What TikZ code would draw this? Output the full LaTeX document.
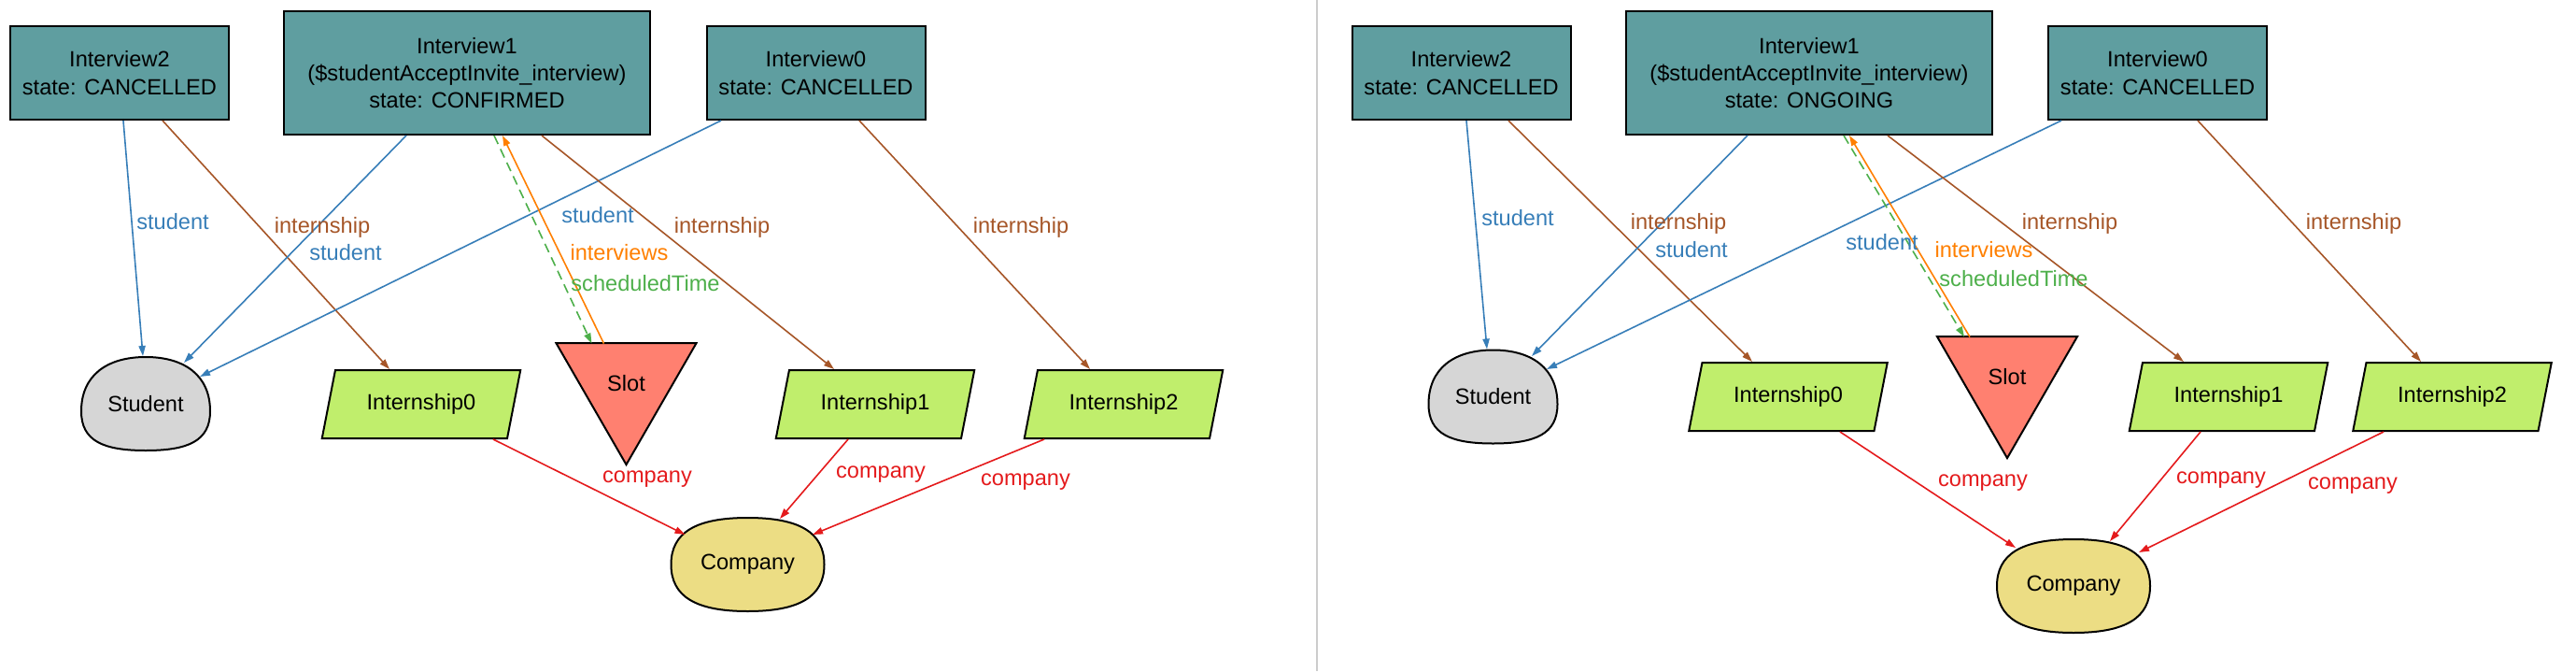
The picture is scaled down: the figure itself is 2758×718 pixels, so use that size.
\documentclass[tikz,border=0pt]{standalone}
\usepackage{fontspec}
\setmainfont{Liberation Sans}
\usepackage{tikz}
\usetikzlibrary{arrows.meta,calc,shapes.geometric}
\definecolor{ivfill}{HTML}{5F9EA0}
\definecolor{stufill}{HTML}{D6D6D6}
\definecolor{intfill}{HTML}{C0EE6C}
\definecolor{slotfill}{HTML}{FF8070}
\definecolor{compfill}{HTML}{ECDD84}
\definecolor{cblue}{HTML}{377EB8}
\definecolor{cbrown}{HTML}{A65628}
\definecolor{corange}{HTML}{FF7F00}
\definecolor{cgreen}{HTML}{4DAF4A}
\definecolor{cred}{HTML}{E41A1C}
\tikzstyle{iv}=[rectangle,draw,line width=1pt,fill=ivfill,align=center,minimum width=117pt,minimum height=50pt,inner sep=0pt]
\tikzstyle{ivbig}=[iv,minimum width=196pt,minimum height=66pt]
\tikzstyle{intern}=[trapezium,trapezium left angle=67.7,trapezium right angle=112.3,trapezium stretches,draw,line width=1pt,fill=intfill,minimum width=106.5pt,minimum height=36.5pt,inner sep=0pt]
\tikzstyle{slot}=[regular polygon,regular polygon sides=3,shape border rotate=180,draw,line width=1pt,fill=slotfill,minimum size=86.6pt,inner sep=0pt]
\tikzstyle{blob}=[draw,line width=1pt]
\tikzstyle{lbl}=[inner sep=0pt]
\tikzstyle{arr}=[-{Triangle[length=5.5pt,width=3.6pt]},line width=0.8pt]
\tikzstyle{tostu}=[arr,cblue]
\tikzstyle{toint}=[arr,cbrown]
\tikzstyle{toslot}=[arr,cgreen,dash pattern=on 5pt off 3pt]
\tikzstyle{toiv}=[arr,corange]
\tikzstyle{tocomp}=[arr,cred]
% egg of the Student node, oval of the Company node
\newcommand{\stuegg}[2]{\draw[blob,fill=stufill,shift={(#1,#2)}] (0,50) .. controls (45,50) and (69,40) .. (69,8) .. controls (69,-30) and (42,-50) .. (0,-50) .. controls (-42,-50) and (-69,-30) .. (-69,8) .. controls (-69,40) and (-45,50) .. cycle;}
\newcommand{\compoval}[2]{\draw[blob,fill=compfill,shift={(#1,#2)}] (82,0) .. controls (82,-34) and (56,-50) .. (0,-50) .. controls (-56,-50) and (-82,-34) .. (-82,0) .. controls (-82,34) and (-56,50) .. (0,50) .. controls (56,50) and (82,34) .. cycle;}

\begin{document}
\begin{tikzpicture}[x=0.5pt,y=-0.5pt,font=\fontsize{11.8}{14.6}\selectfont]
    \useasboundingbox (0,0) rectangle (2758,718);
    \coordinate (sept) at (1410,0);
    \coordinate (sepb) at (1410,718);
    \draw[black!20,line width=0.6pt] (sept) -- (sepb);

    % left: CONFIRMED
    \node[iv] (i2) at (128,78) {Interview2\\state: CANCELLED};
    \node[ivbig] (i1) at (500,78) {Interview1\\(\$studentAcceptInvite\_interview)\\state: CONFIRMED};
    \node[iv] (i0) at (873.5,78) {Interview0\\state: CANCELLED};
    \stuegg{156}{432}
    \node (st) at (156,432) {Student};
    \node[intern] (p0) at (451,432.5) {Internship0};
    \node[slot] (sl) at (670.5,410.5) {Slot};
    \node[intern] (p1) at (937,432.5) {Internship1};
    \node[intern] (p2) at (1203,432.5) {Internship2};
    \compoval{800.5}{604}
    \node (co) at (800.5,604) {Company};

    \draw[tostu] ($(i2.south)+(4,0)$) -- ($(st)+(-3,-51)$);
    \draw[toint] ($(i2.south)+(46,0)$) -- ($(p0.north)+(-34,0)$);
    \draw[tostu] ($(i1.south)+(-65,0)$) -- ($(st)+(41,-44)$);
    \draw[tostu] ($(i0.south)+(-101.5,0)$) -- ($(st)+(58,-29)$);
    \draw[toslot] ($(i1.south)+(29,0)$) -- ($(sl)+(-37,-43)$);
    \draw[toiv] ($(sl)+(-24,-43)$) -- ($(i1.south)+(38,0)$);
    \draw[toint] ($(i1.south)+(80,0)$) -- ($(p1.north)+(-44,0)$);
    \draw[toint] ($(i0.south)+(46.5,0)$) -- ($(p2.north)+(-36,0)$);
    \draw[tocomp] ($(p0.south)+(77,0)$) -- ($(co)+(-67,-32)$);
    \draw[tocomp] ($(p1.south)+(-29,0)$) -- ($(co)+(34.5,-49)$);
    \draw[tocomp] ($(p2.south)+(-85,0)$) -- ($(co)+(69.5,-32)$);

    \node[lbl,text=cblue] (ls2) at (185,237) {student};
    \node[lbl,text=cbrown] (li2) at (345,243) {internship};
    \node[lbl,text=cblue] (ls1) at (370,270) {student};
    \node[lbl,text=cblue] (ls0) at (640,230) {student};
    \node[lbl,text=corange] (lv) at (663,270) {interviews};
    \node[lbl,text=cgreen] (lt) at (691,303) {scheduledTime};
    \node[lbl,text=cbrown] (li1) at (773,243) {internship};
    \node[lbl,text=cbrown] (li0) at (1093,243) {internship};
    \node[lbl,text=cred] (lc0) at (693,513) {company};
    \node[lbl,text=cred] (lc1) at (943,508) {company};
    \node[lbl,text=cred] (lc2) at (1098,516) {company};

    % right: ONGOING
    \node[iv] (I2) at (1564.5,78) {Interview2\\state: CANCELLED};
    \node[ivbig] (I1) at (1937,78) {Interview1\\(\$studentAcceptInvite\_interview)\\state: ONGOING};
    \node[iv] (I0) at (2310,78) {Interview0\\state: CANCELLED};
    \stuegg{1598.5}{424.5}
    \node (St) at (1598.5,424.5) {Student};
    \node[intern] (P0) at (1914.5,424.5) {Internship0};
    \node[slot] (Sl) at (2149,403.5) {Slot};
    \node[intern] (P1) at (2386,424.5) {Internship1};
    \node[intern] (P2) at (2625.5,424.5) {Internship2};
    \compoval{2220}{627}
    \node (Co) at (2220,627) {Company};

    \draw[tostu] ($(I2.south)+(5.5,0)$) -- ($(St)+(-6.5,-51)$);
    \draw[toint] ($(I2.south)+(50.5,0)$) -- ($(P0.north)+(-38.5,0)$);
    \draw[tostu] ($(I1.south)+(-66,0)$) -- ($(St)+(41.5,-43.5)$);
    \draw[tostu] ($(I0.south)+(-103,0)$) -- ($(St)+(57.5,-29.5)$);
    \draw[toslot] ($(I1.south)+(37,0)$) -- ($(Sl)+(-46,-43)$);
    \draw[toiv] ($(Sl)+(-40,-43)$) -- ($(I1.south)+(43,0)$);
    \draw[toint] ($(I1.south)+(84,0)$) -- ($(P1.north)+(-48,0)$);
    \draw[toint] ($(I0.south)+(43,0)$) -- ($(P2.north)+(-33.5,0)$);
    \draw[tocomp] ($(P0.south)+(55.5,0)$) -- ($(Co)+(-62,-41)$);
    \draw[tocomp] ($(P1.south)+(-30,0)$) -- ($(Co)+(39,-48)$);
    \draw[tocomp] ($(P2.south)+(-73.5,0)$) -- ($(Co)+(70,-36)$);

    \node[lbl,text=cblue] (Ls2) at (1625,233) {student};
    \node[lbl,text=cbrown] (Li2) at (1797,239) {internship};
    \node[lbl,text=cblue] (Ls1) at (1811,267) {student};
    \node[lbl,text=cblue] (Ls0) at (2015,259) {student};
    \node[lbl,text=corange] (Lv) at (2124,267) {interviews};
    \node[lbl,text=cgreen] (Lt) at (2156,298) {scheduledTime};
    \node[lbl,text=cbrown] (Li1) at (2216,239) {internship};
    \node[lbl,text=cbrown] (Li0) at (2520,239) {internship};
    \node[lbl,text=cred] (Lc0) at (2123,517) {company};
    \node[lbl,text=cred] (Lc1) at (2378,514) {company};
    \node[lbl,text=cred] (Lc2) at (2519,520) {company};
\end{tikzpicture}
\end{document}
